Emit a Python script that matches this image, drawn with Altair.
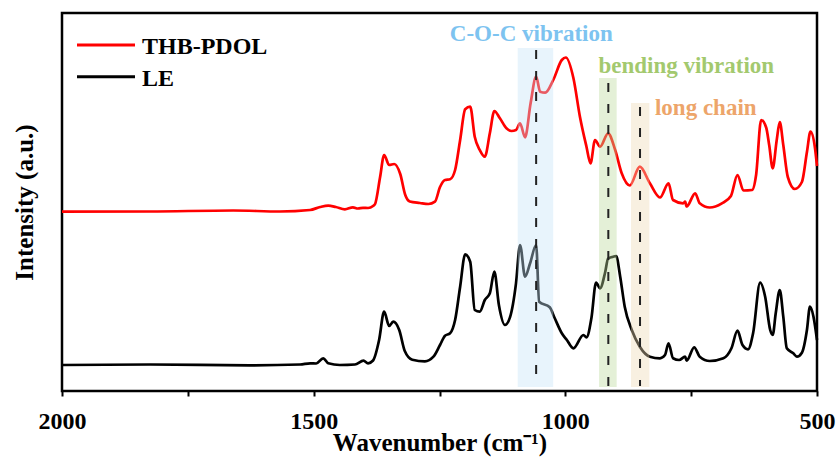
import altair as alt
import pandas as pd

# ---- spectra (wavenumber in cm-1, intensity in arbitrary units) ----
wn_thb = [2000, 1825, 1660, 1567, 1507, 1487, 1471, 1456, 1438, 1422,
          1412, 1402, 1392, 1382, 1378, 1368, 1360, 1350, 1340, 1328,
          1318, 1309, 1289, 1272, 1259, 1249, 1239, 1229, 1219, 1209,
          1199, 1189, 1180, 1170, 1160, 1150, 1141, 1130, 1117, 1107,
          1098, 1090, 1080, 1069, 1058, 1050, 1040, 1024, 1007, 999,
          984, 971, 958, 950, 941, 931, 915, 901, 888, 872,
          852, 832, 812, 795, 786, 766, 762, 759, 742, 733,
          713, 689, 671, 658, 646, 629, 621, 611, 601, 595,
          588, 580, 574, 567, 558, 544, 530, 520, 513, 504, 500]
int_thb = [179.3, 179.5, 180.5, 179.5, 181, 184, 185.3, 184, 181.7, 183.7,
           182.5, 183.2, 183, 185, 187, 214, 236, 226, 227, 217,
           196, 189.5, 188, 187, 189.3, 204, 211, 211.7, 221, 251,
           281.7, 284.3, 254.3, 241, 234.3, 257.7, 280, 272.7, 262.7, 260,
           261, 267.7, 253.7, 287.7, 314.3, 299.3, 298.3, 311, 331, 333.5,
           313, 274.3, 244.3, 227.7, 251, 244.3, 257.7, 241, 217.7, 205.5,
           224.3, 207.7, 193.5, 207.7, 191, 187.7, 189.3, 184.5, 197.7, 187.7,
           183.5, 187.7, 195, 216, 200.5, 201, 216, 271, 263.5, 246,
           222.7, 251, 269, 246, 214, 202, 209, 239, 259.3, 243, 225]

wn_le = [2000, 1825, 1627, 1527, 1507, 1495, 1481, 1471, 1448, 1418,
         1401, 1392, 1382, 1370, 1360, 1350, 1342, 1330, 1319, 1304,
         1279, 1262, 1249, 1239, 1229, 1219, 1209, 1199, 1189, 1180,
         1170, 1160, 1150, 1141, 1132, 1120, 1110, 1098, 1090, 1080,
         1070, 1058, 1052, 1031, 1021, 1007, 997, 984, 964, 958,
         948, 939, 931, 921, 915, 907, 899, 891, 882, 868,
         852, 832, 812, 802, 795, 786, 774, 762, 759, 744,
         733, 713, 686, 670, 658, 648, 637, 627, 613, 603,
         593, 588, 582, 574, 567, 560, 547, 540, 530, 520,
         514, 507, 500]
int_le = [26, 26.5, 25.7, 26.5, 27.7, 27.5, 32.7, 27.7, 26, 26.5,
          30.3, 27.7, 30.5, 51, 79.3, 65, 69.3, 61, 40, 31.3,
          29.7, 34.3, 46, 55.3, 57.7, 71, 104.3, 136.7, 129.3, 81,
          79.3, 91, 97.7, 119.3, 86, 66, 73.7, 107.7, 146, 114.3,
          127.7, 146, 89.3, 83.7, 72.7, 57.7, 51, 42.7, 56, 53.7,
          73.5, 108.5, 102.7, 118.5, 132.5, 134, 135, 114.3, 84.3, 61,
          44.3, 34.3, 32.7, 36, 47.7, 32.7, 31, 34.3, 30.3, 43.7,
          34.3, 30, 32.7, 42.7, 60.3, 46, 41.7, 57.7, 108.3, 94.3,
          61, 56, 77.7, 101, 74.3, 42.7, 37.7, 34.3, 38.3, 61,
          84.3, 74.3, 51]

series_names = ["THB-PDOL", "LE"]
series_colors = ["#ff0000", "#000000"]

x_ticks = [2000, 1750, 1500, 1250, 1000, 750, 500]

# ---- highlighted regions ----
band_labels = ["C-O-C vibration", "bending vibration", "long chain"]
band_start = [1094.6, 933, 869.5]
band_end = [1024, 898, 833]
band_top = [343, 313, 288]
band_bottom = [4, 4, 4]
band_fill = ["#c5e3f7", "#bbd99b", "#edd9b4"]
line_wn = [1058, 914.6, 851.6]
line_top = [341, 308, 284]
line_bottom = [5, 5, 5]
text_wn = [1067.6, 759.7, 721]
text_int = [350, 317.7, 276]
text_colors = ["#7dc3f0", "#a3c96e", "#eda56a"]

FONT = "Liberation Serif"

spec = pd.concat([
    pd.DataFrame({"wn": wn_thb, "I": int_thb, "series": series_names[0]}),
    pd.DataFrame({"wn": wn_le, "I": int_le, "series": series_names[1]}),
])
bands = pd.DataFrame({"label": band_labels, "wn": band_start, "wn2": band_end,
                      "I": band_top, "I2": band_bottom, "fill": band_fill,
                      "lx": line_wn, "ly1": line_top, "ly2": line_bottom,
                      "tx": text_wn, "ty": text_int, "tcol": text_colors})

xscale = alt.Scale(domain=[500, 2000], reverse=True, nice=False, zero=False)
yscale = alt.Scale(domain=[0, 378], nice=False, zero=False)

xaxis = alt.Axis(values=x_ticks, format="d",
                 labelExpr="datum.value % 500 == 0 ? datum.label : ''",
                 labelFont=FONT, labelFontSize=24, labelFontWeight="bold",
                 labelColor="black",
                 title="Wavenumber (cm⁻¹)", titleY=59,
                 titleFont=FONT, titleFontSize=25, titleFontWeight="bold",
                 titleColor="black", titleBaseline="alphabetic",
                 tickSize=5, tickWidth=2, tickColor="black",
                 labelPadding=13, labelFlush=False,
                 domain=False, grid=False)
yaxis = alt.Axis(title="Intensity (a.u.)", labels=False, ticks=False,
                 titleFont=FONT, titleFontSize=25, titleFontWeight="bold",
                 titleColor="black",
                 domain=False, grid=False, titleX=-30, titleY=189,
                 titleBaseline="alphabetic")

lines = alt.Chart(spec).mark_line(strokeWidth=2.7, interpolate="monotone").encode(
    x=alt.X("wn:Q", scale=xscale, axis=xaxis),
    y=alt.Y("I:Q", scale=yscale, axis=yaxis),
    color=alt.Color("series:N", scale=alt.Scale(domain=series_names, range=series_colors),
                    legend=None),
    order=alt.Order("wn:Q", sort="descending"),
    detail="series:N",
)

rects = alt.Chart(bands).mark_rect(opacity=0.4).encode(
    x=alt.X("wn:Q", scale=xscale, axis=xaxis), x2="wn2:Q",
    y=alt.Y("I:Q", scale=yscale, axis=yaxis), y2="I2:Q",
    color=alt.Color("fill:N", scale=None),
)

dashes = alt.Chart(bands).mark_rule(strokeDash=[9, 12], strokeWidth=2, color="#222222").encode(
    x=alt.X("lx:Q", scale=xscale, axis=xaxis),
    y=alt.Y("ly1:Q", scale=yscale, axis=yaxis), y2="ly2:Q",
)

texts = alt.Chart(bands).mark_text(font=FONT, fontSize=23, fontWeight="bold",
                                   align="center", baseline="alphabetic").encode(
    x=alt.X("tx:Q", scale=xscale, axis=xaxis),
    y=alt.Y("ty:Q", scale=yscale, axis=yaxis),
    text="label:N",
    color=alt.Color("tcol:N", scale=None),
)

legend_layers = []
for i, (name, col) in enumerate(zip(series_names, series_colors)):
    d = pd.DataFrame({"series": [name]})
    ly = 32 + i * 31.7
    legend_layers.append(alt.Chart(d).mark_rule(strokeWidth=3, color=col).encode(
        x=alt.value(15), x2=alt.value(73), y=alt.value(ly)))
    legend_layers.append(alt.Chart(d).mark_text(font=FONT, fontSize=24, fontWeight="bold",
                                                align="left", baseline="alphabetic",
                                                color="black").encode(
        x=alt.value(80), y=alt.value(ly + 9.3), text="series:N"))

chart = alt.layer(lines, rects, dashes, texts, *legend_layers).properties(
    width=755, height=378,
    padding={"left": 62, "top": 13, "right": 23, "bottom": 73},
    autosize=alt.AutoSizeParams(type="none"),
    background="white",
).configure_view(stroke="black", strokeWidth=2.5).configure_axis(
    labelFont=FONT, labelFontSize=24, labelFontWeight="bold", labelColor="black",
    titleFont=FONT, titleFontSize=25, titleFontWeight="bold", titleColor="black",
)

chart.save("out.html", embed_options={"renderer": "svg", "actions": False})
